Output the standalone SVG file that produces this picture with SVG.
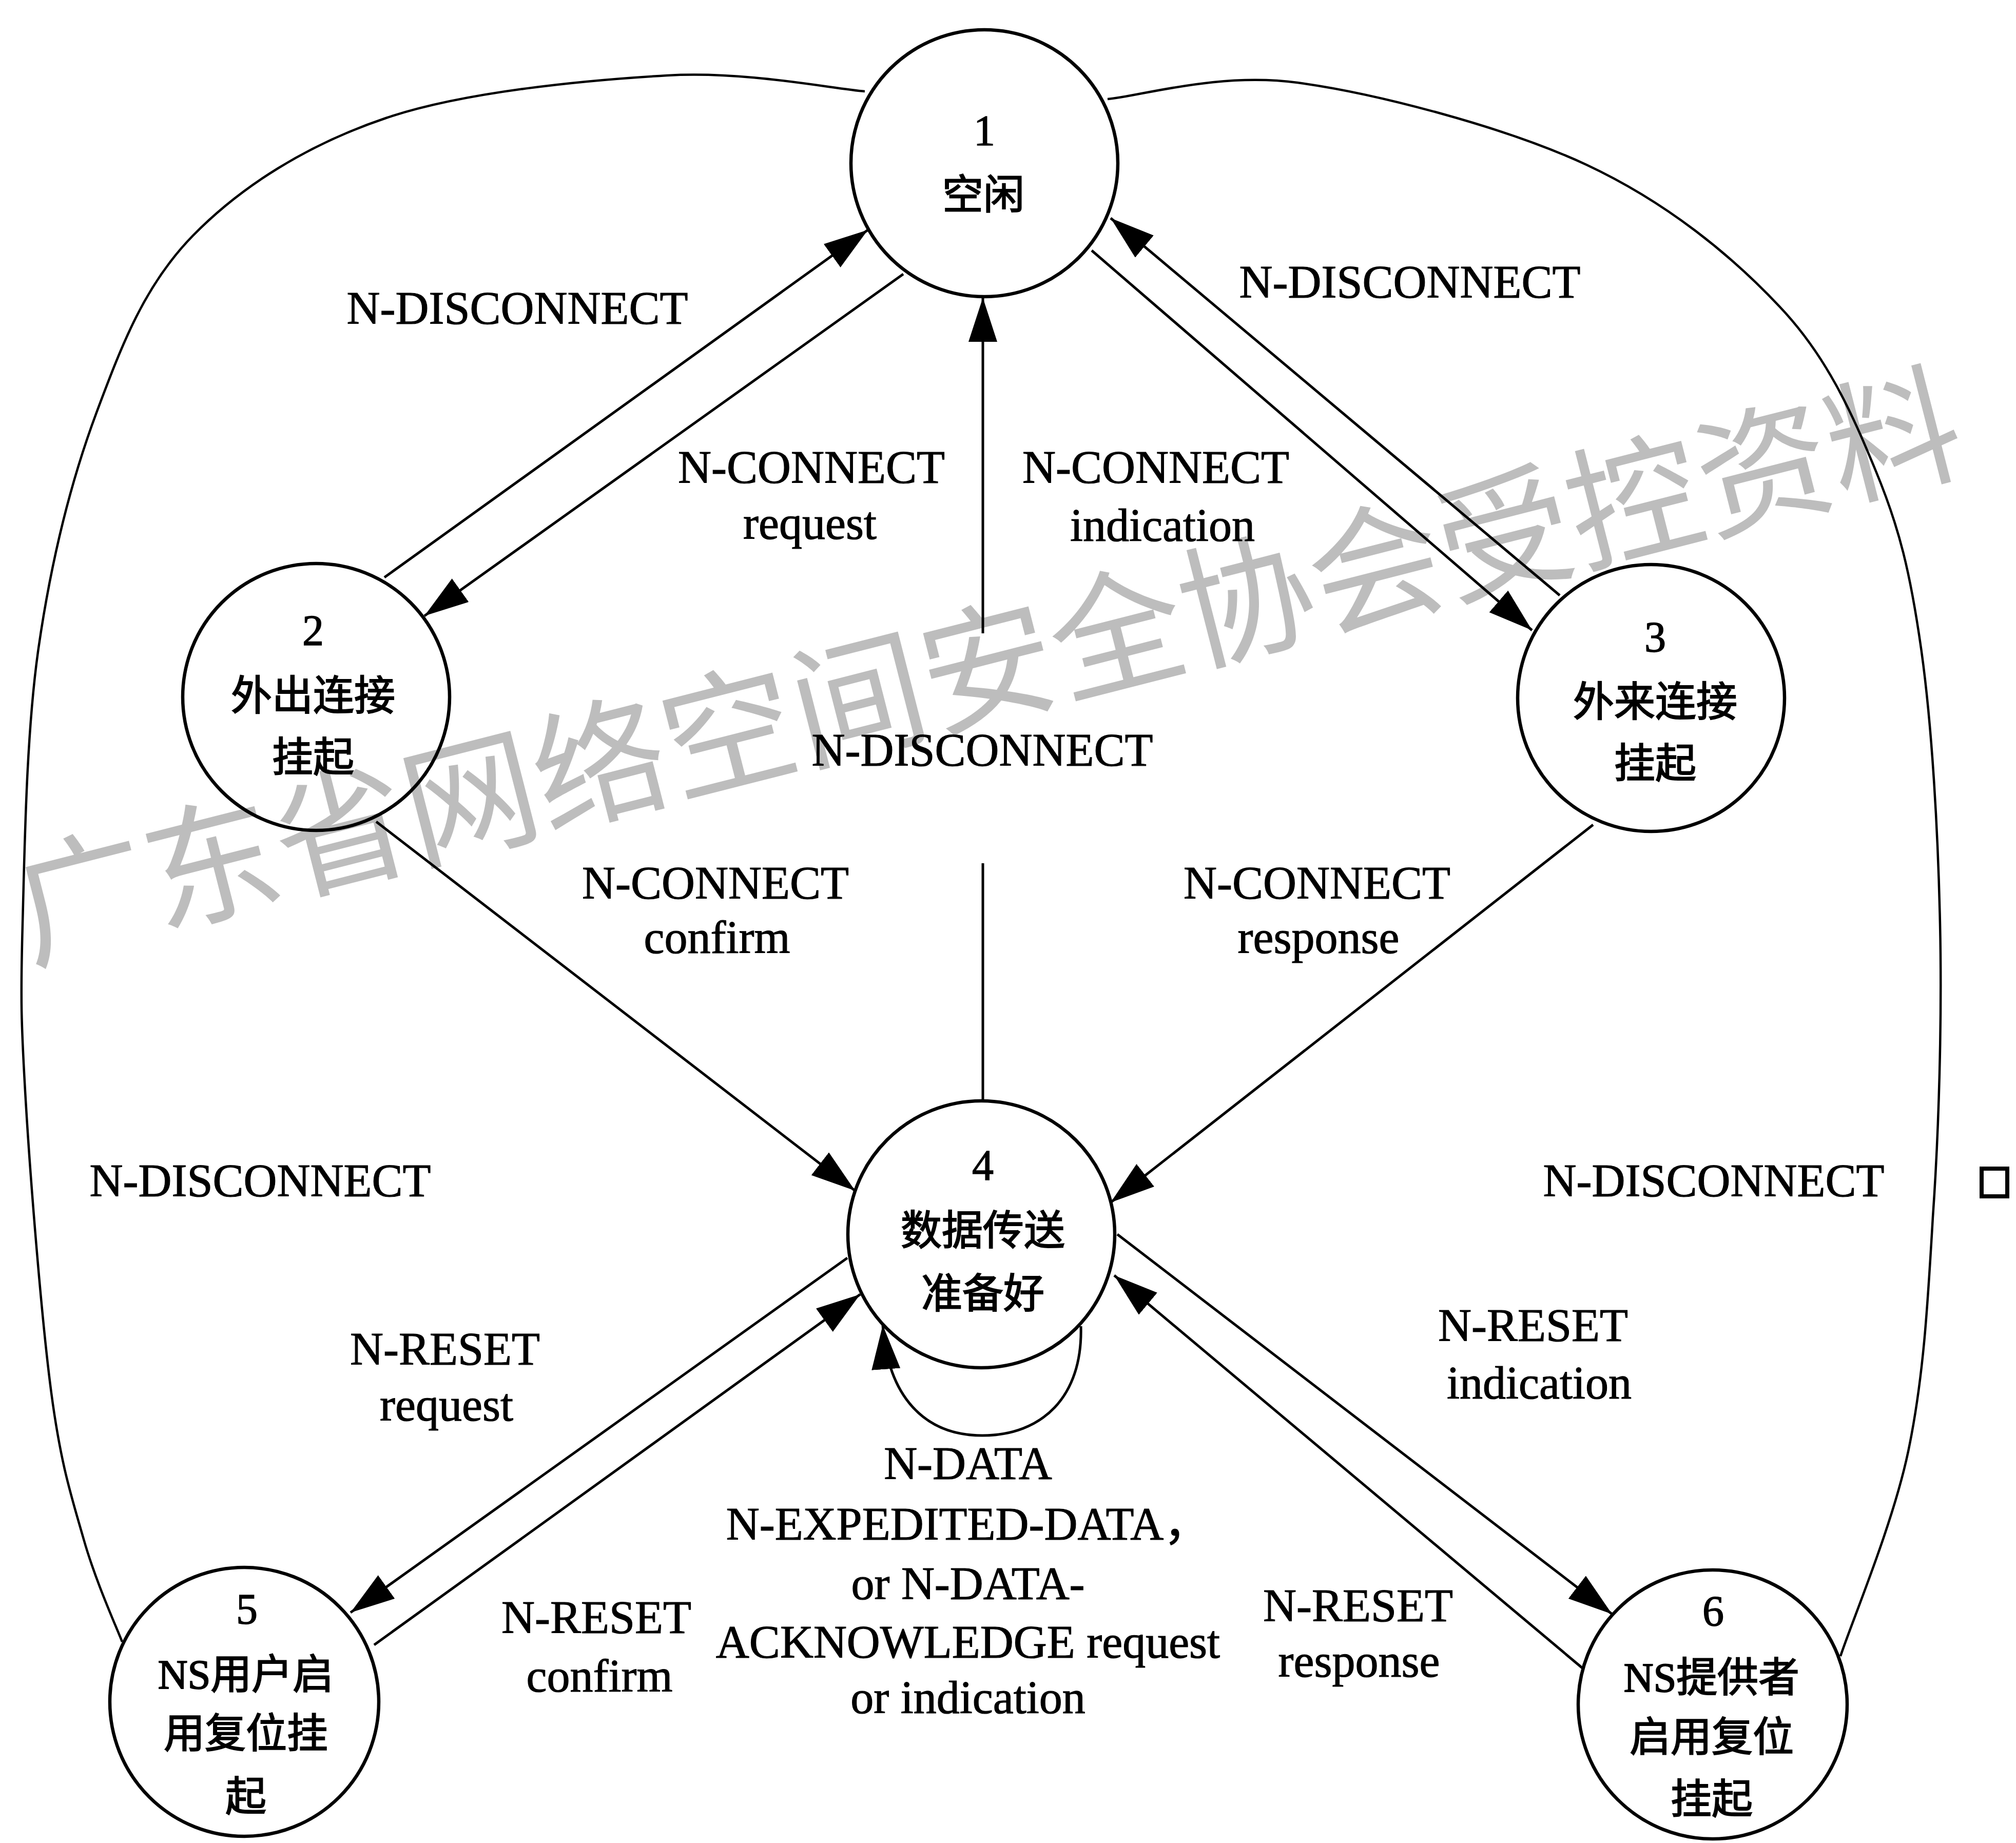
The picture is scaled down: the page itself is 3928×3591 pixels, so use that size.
<svg xmlns="http://www.w3.org/2000/svg" width="3928" height="3591" viewBox="0 0 3928 3591">
  <style>
    .node { fill: none; stroke: #000; stroke-width: 6.5; }
    .edge { fill: none; stroke: #000; stroke-width: 5; }
    .arc { fill: none; stroke: #000; stroke-width: 4.5; }
    .num { font-family: "Liberation Serif", serif; font-size: 84px; text-anchor: middle; fill: #000; stroke: #000; stroke-width: 1.5; }
    .name { font-family: "Liberation Serif", "Noto Sans CJK SC", sans-serif; font-size: 80px; text-anchor: middle; fill: #000; stroke: #000; stroke-width: 2; }
    .lbl { font-family: "Liberation Serif", "Noto Sans CJK SC", serif; font-size: 90px; text-anchor: middle; fill: #000; stroke: #000; stroke-width: 1.2; }
    .wm { font-family: "Noto Sans CJK SC", sans-serif; font-size: 260px; fill: #bdbdbd; }
  </style>
  <defs>
    <marker id="arrow" markerUnits="userSpaceOnUse" markerWidth="90" markerHeight="60" refX="86" refY="28" orient="auto">
      <path d="M0,0 L86,28 L0,56 Z" fill="#000"/>
    </marker>
  </defs>

  <rect width="3928" height="3591" fill="#fff"/>

  <!-- background stamp text -->
  <g id="watermark">
    <text class="wm" x="58" y="1872" transform="rotate(-14.3 58 1872)">广东省网络空间安全协会受控资料</text>
  </g>

  <!-- transitions -->
  <g id="connectors">
    <!-- outer N-DISCONNECT arcs: 5 -> 1 and 6 -> 1 -->
    <path class="arc" d="M 1685 178 C 1621 173, 1455 138, 1300 147 C 1144 156, 906 178, 752 230 C 598 282, 470 363, 376 459 C 282 555, 238 670, 188 804 C 138 938, 99 1097, 75 1263 C 51 1429, 48 1653, 44 1800 C 40 1947, 41 1991, 50 2143 C 59 2295, 81 2571, 100 2714 C 119 2857, 140 2918, 163 2999 C 186 3080, 225 3166, 238 3199"/>
    <path class="arc" d="M 2158 193 C 2220 188, 2372 140, 2528 161 C 2683 182, 2934 248, 3091 321 C 3247 394, 3373 497, 3467 597 C 3561 696, 3609 807, 3655 918 C 3701 1029, 3722 1116, 3743 1263 C 3764 1410, 3776 1615, 3780 1800 C 3784 1985, 3778 2200, 3766 2371 C 3756 2542, 3748 2685, 3718 2828 C 3688 2971, 3608 3160, 3586 3227"/>

    <!-- 2 <-> 1 -->
    <line class="edge" x1="749" y1="1125" x2="1691" y2="448" marker-end="url(#arrow)"/>
    <line class="edge" x1="1760" y1="534" x2="827" y2="1200" marker-end="url(#arrow)"/>
    <!-- 3 <-> 1 -->
    <line class="edge" x1="3039" y1="1160" x2="2164" y2="425" marker-end="url(#arrow)"/>
    <line class="edge" x1="2127" y1="488" x2="2985" y2="1228" marker-end="url(#arrow)"/>
    <!-- 4 -> 1, broken around its label -->
    <line class="edge" x1="1915" y1="2145" x2="1915" y2="1682"/>
    <line class="edge" x1="1915" y1="1234" x2="1915" y2="580" marker-end="url(#arrow)"/>
    <!-- 2 -> 4, 3 -> 4 -->
    <line class="edge" x1="733" y1="1601" x2="1666" y2="2320" marker-end="url(#arrow)"/>
    <line class="edge" x1="3104" y1="1607" x2="2164" y2="2343" marker-end="url(#arrow)"/>
    <!-- 4 <-> 5 -->
    <line class="edge" x1="1651" y1="2451" x2="683" y2="3142" marker-end="url(#arrow)"/>
    <line class="edge" x1="729" y1="3205" x2="1676" y2="2522" marker-end="url(#arrow)"/>
    <!-- 4 <-> 6 -->
    <line class="edge" x1="2177" y1="2405" x2="3141" y2="3145" marker-end="url(#arrow)"/>
    <line class="edge" x1="3083" y1="3250" x2="2171" y2="2485" marker-end="url(#arrow)"/>
    <!-- self loop on 4 -->
    <path class="edge" d="M 2106 2584 C 2110 2722, 2030 2797, 1914 2797 C 1800 2797, 1730 2720, 1720 2582" marker-end="url(#arrow)"/>
  </g>

  <!-- transition labels -->
  <g id="edge-labels">
    <text class="lbl" x="1008" y="631">N-DISCONNECT</text>
    <text class="lbl" x="2747" y="580">N-DISCONNECT</text>
    <text class="lbl" x="1581" y="941">N-CONNECT</text>
    <text class="lbl" x="1578" y="1050">request</text>
    <text class="lbl" x="2252" y="941">N-CONNECT</text>
    <text class="lbl" x="2265" y="1054">indication</text>
    <text class="lbl" x="1914" y="1492">N-DISCONNECT</text>
    <text class="lbl" x="1394" y="1751">N-CONNECT</text>
    <text class="lbl" x="1397" y="1857">confirm</text>
    <text class="lbl" x="2566" y="1751">N-CONNECT</text>
    <text class="lbl" x="2569" y="1857">response</text>
    <text class="lbl" x="507" y="2331">N-DISCONNECT</text>
    <text class="lbl" x="3339" y="2331">N-DISCONNECT</text>
    <text class="lbl" x="867" y="2659">N-RESET</text>
    <text class="lbl" x="870" y="2768">request</text>
    <text class="lbl" x="2987" y="2613">N-RESET</text>
    <text class="lbl" x="2999" y="2725">indication</text>
    <text class="lbl" x="1162" y="3182">N-RESET</text>
    <text class="lbl" x="1168" y="3296">confirm</text>
    <text class="lbl" x="2646" y="3159">N-RESET</text>
    <text class="lbl" x="2648" y="3267">response</text>
    <text class="lbl" x="1886" y="2882">N-DATA</text>
    <text class="lbl" x="1886" y="3000">N-EXPEDITED-DATA，</text>
    <text class="lbl" x="1886" y="3116">or N-DATA-</text>
    <text class="lbl" x="1886" y="3230">ACKNOWLEDGE request</text>
    <text class="lbl" x="1886" y="3338">or indication</text>
  </g>

  <!-- states -->
  <g id="node-1">
    <circle class="node" cx="1918" cy="318" r="260"/>
    <text class="num" x="1918" y="283">1</text>
    <text class="name" x="1916" y="407">空闲</text>
  </g>
  <g id="node-2">
    <circle class="node" cx="616" cy="1358" r="260"/>
    <text class="num" x="610" y="1257">2</text>
    <text class="name" x="610" y="1383">外出连接</text>
    <text class="name" x="610" y="1503">挂起</text>
  </g>
  <g id="node-3">
    <circle class="node" cx="3217" cy="1360" r="260"/>
    <text class="num" x="3225" y="1270">3</text>
    <text class="name" x="3225" y="1395">外来连接</text>
    <text class="name" x="3225" y="1515">挂起</text>
  </g>
  <g id="node-4">
    <circle class="node" cx="1912" cy="2405" r="260"/>
    <text class="num" x="1915" y="2299">4</text>
    <text class="name" x="1915" y="2425">数据传送</text>
    <text class="name" x="1915" y="2548">准备好</text>
  </g>
  <g id="node-5">
    <circle class="node" cx="476" cy="3316" r="262"/>
    <text class="num" x="481" y="3164">5</text>
    <text class="name" x="479" y="3290">NS用户启</text>
    <text class="name" x="479" y="3405">用复位挂</text>
    <text class="name" x="479" y="3528">起</text>
  </g>
  <g id="node-6">
    <circle class="node" cx="3337" cy="3321" r="262"/>
    <text class="num" x="3338" y="3168">6</text>
    <text class="name" x="3335" y="3296">NS提供者</text>
    <text class="name" x="3335" y="3412">启用复位</text>
    <text class="name" x="3335" y="3533">挂起</text>
  </g>

  <!-- small box at the right margin -->
  <g id="box">
    <rect x="3861" y="2277" width="50" height="54" fill="none" stroke="#000" stroke-width="8"/>
  </g>
</svg>
